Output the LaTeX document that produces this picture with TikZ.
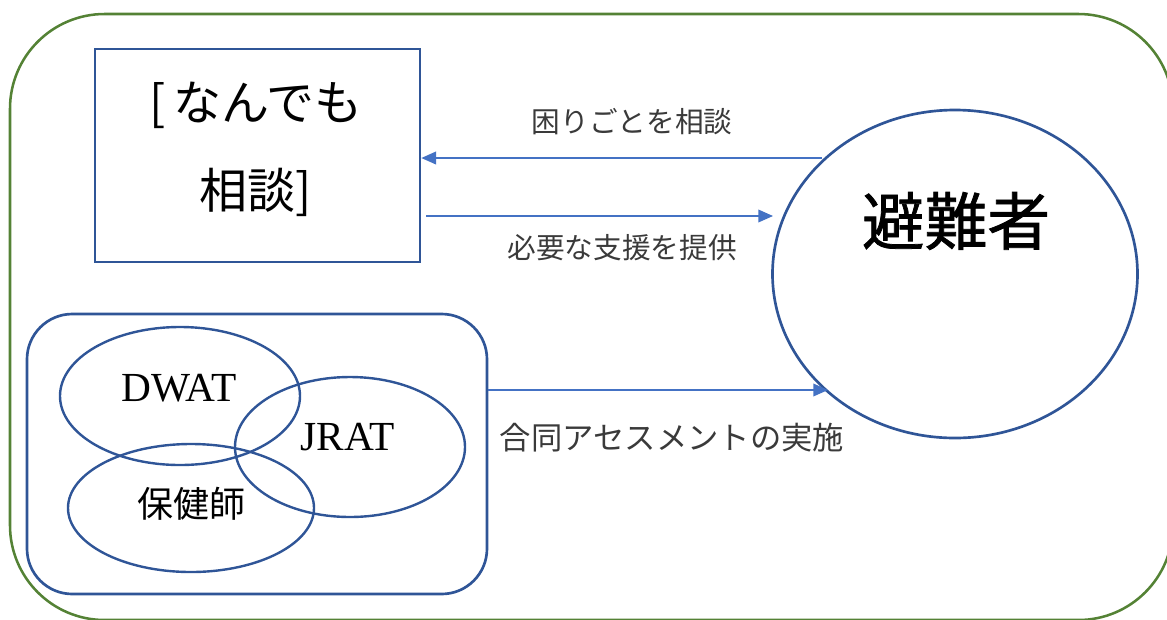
\documentclass[tikz,border=0pt]{standalone}
\usepackage{fontspec}
\setmainfont{Liberation Serif}
\newfontfamily\jp{Noto Sans CJK JP}
\usetikzlibrary{shapes.geometric,arrows.meta}
\definecolor{grn}{HTML}{548235}
\definecolor{blu}{HTML}{2F5597}
\definecolor{arrc}{HTML}{4472C4}
\definecolor{txt}{HTML}{3A3A3A}
\tikzset{
  frame/.style={draw=grn, line width=1.9pt, rounded corners=71pt},
  bluebox/.style={draw=blu, line width=2pt, inner sep=0pt},
  venn/.style={ellipse, draw=blu, line width=1.8pt, inner sep=0pt},
  arr/.style={draw=arrc, line width=1.1pt, -{Triangle[length=11pt,width=9.5pt]}},
  lbl/.style={text=txt, inner sep=0pt, font=\jp\fontsize{21.5}{26}\selectfont},
}
\begin{document}
\begin{tikzpicture}[x=0.75pt,y=-0.75pt]
\useasboundingbox (0,0) rectangle (1167,619);
\begin{scope}
\clip (0,0) rectangle (1167,619);
\draw[frame] (10,14) rectangle (1173,620);
\end{scope}

% consultation box
\node[bluebox, minimum width=243.75pt, minimum height=159.75pt] (box) at (257.5,155.5) {};
\node[inner sep=0pt, align=center, font=\jp\fontsize{36}{66}\selectfont] (boxt) at (256,149.5) {[\,なんでも\\相談]};

% evacuee ellipse
\node[ellipse, draw=blu, line width=2pt, minimum width=273.75pt, minimum height=246pt] (circ) at (955,274) {};
\node[inner sep=0pt, font=\jp\addfontfeature{FakeBold=1.2}\fontsize{47}{56}\selectfont] (circt) at (956,221) {避難者};

% team box
\node[bluebox, rounded corners=34pt, minimum width=345pt, minimum height=210pt] (team) at (257,454) {};
\node[venn, minimum width=180pt, minimum height=103.5pt] (dwat) at (180,396) {};
\node[venn, minimum width=172.5pt, minimum height=105pt] (jrat) at (350,447) {};
\node[venn, minimum width=184.5pt, minimum height=96pt] (hoken) at (191,508) {};
\node[inner sep=0pt, font=\fontsize{31}{37}\selectfont] (dwatt) at (179,388) {DWAT};
\node[inner sep=0pt, font=\fontsize{31}{37}\selectfont] (jratt) at (348,437) {JRAT};
\node[inner sep=0pt, font=\jp\fontsize{27}{32}\selectfont] (hokent) at (191,504) {保健師};

% arrows
\coordinate (a1) at (822,158);
\coordinate (a2) at (773,216);
\coordinate (a3) at (828,390);
\draw[arr] (a1) -- (a1 -| box.east);
\draw[arr] ([xshift=3.75pt]box.east |- a2) -- (a2);
\draw[arr] (team.east |- a3) -- (a3);

% labels
\node[lbl] (l1) at (632,122) {困りごとを相談};
\node[lbl] (l2) at (622,248) {必要な支援を提供};
\node[lbl, font=\jp\fontsize{23.5}{28}\selectfont] (l3) at (672,438) {合同アセスメントの実施};
\end{tikzpicture}
\end{document}
